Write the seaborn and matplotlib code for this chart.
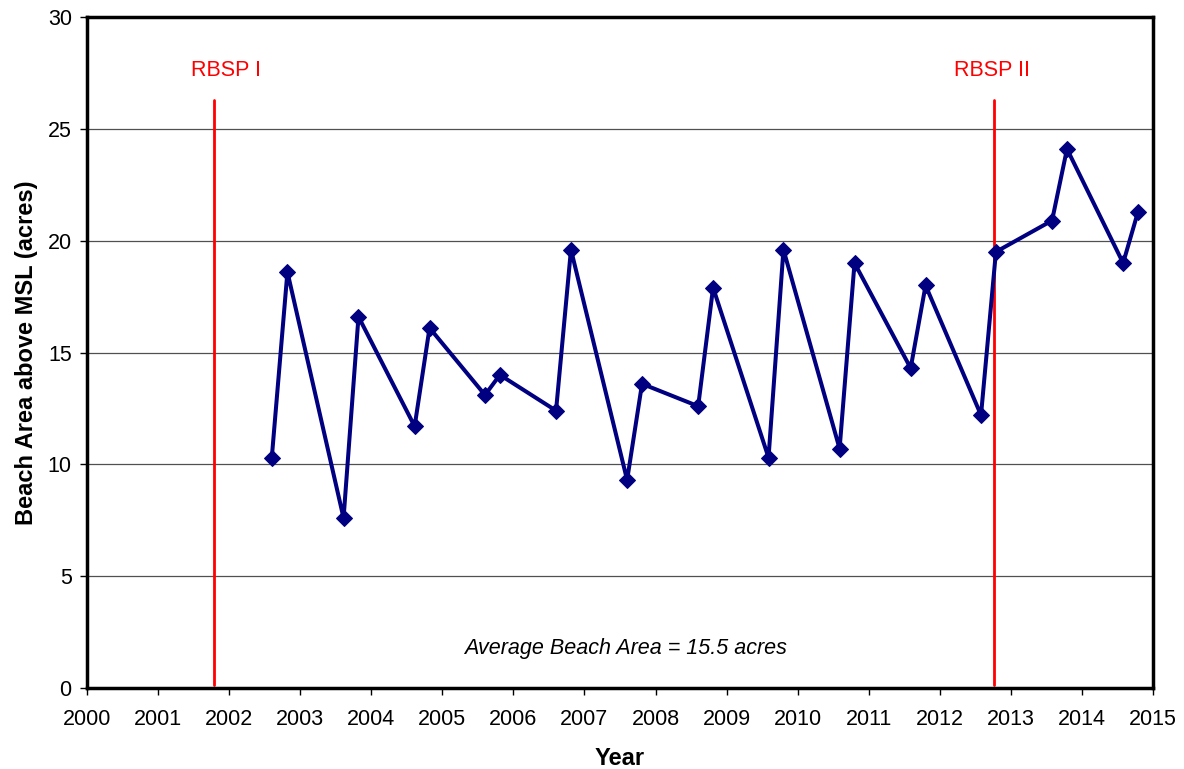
import matplotlib
matplotlib.use("Agg")
import matplotlib.pyplot as plt
import seaborn as sns
import pandas as pd

years = [2002.60, 2002.82, 2003.61, 2003.82, 2004.61, 2004.82, 2005.60, 2005.81,
         2006.60, 2006.81, 2007.60, 2007.81, 2008.60, 2008.81, 2009.59, 2009.80,
         2010.59, 2010.80, 2011.59, 2011.80, 2012.58, 2012.79, 2013.58, 2013.79,
         2014.58, 2014.79]
area = [10.3, 18.6, 7.6, 16.6, 11.7, 16.1, 13.1, 14.0,
        12.4, 19.6, 9.3, 13.6, 12.6, 17.9, 10.3, 19.6,
        10.7, 19.0, 14.3, 18.0, 12.2, 19.5, 20.9, 24.1,
        19.0, 21.3]

event_years = [2001.78, 2012.76]
event_labels = ["RBSP I", "RBSP II"]
event_label_x = [2001.95, 2012.74]
event_top = 26.3
event_label_y = 27.6

avg_text = "Average Beach Area = 15.5 acres"
avg_x, avg_y = 2007.58, 1.75

df = pd.DataFrame({"Year": years, "Area": area})

sns.set_theme(style="white")
plt.rcParams["font.family"] = ["Liberation Sans", "DejaVu Sans"]

fig = plt.figure(figsize=(11.84, 7.69), dpi=100)
ax = fig.add_axes([0.0735, 0.1053, 0.9003, 0.8726])

ax.set_xlim(2000, 2015)
ax.set_ylim(0, 30)
ax.set_yticks(range(0, 31, 5))
ax.set_xticks(range(2000, 2016))
ax.yaxis.grid(True, color="#505050", linewidth=0.9)
ax.set_axisbelow(True)

for xv, lx, lab in zip(event_years, event_label_x, event_labels):
    ax.plot([xv, xv], [0.15, event_top], color="#ff0000", linewidth=2.0, zorder=2)
    ax.text(lx, event_label_y, lab, color="#ff0000", fontsize=15.5,
            ha="center", va="center")

sns.lineplot(data=df, x="Year", y="Area", ax=ax, color="#000080",
             marker="D", markersize=8, markeredgecolor="#000080",
             linewidth=2.9, zorder=3)

ax.text(avg_x, avg_y, avg_text, fontsize=15.5, style="italic", ha="center",
        va="center", color="black")

for s in ax.spines.values():
    s.set_color("black")
    s.set_linewidth(2.5)

ax.tick_params(axis="both", which="major", direction="out", length=5, width=1,
               color="black", labelsize=15.5, labelcolor="black", bottom=True, left=True)
ax.tick_params(axis="x", pad=10)
ax.tick_params(axis="y", pad=6)
ax.set_xlabel("Year", fontsize=17, fontweight="bold", labelpad=12, color="black")
ax.set_ylabel("Beach Area above MSL (acres)", fontsize=17, fontweight="bold",
              labelpad=7, color="black")

fig.savefig("out.png", dpi=100)
